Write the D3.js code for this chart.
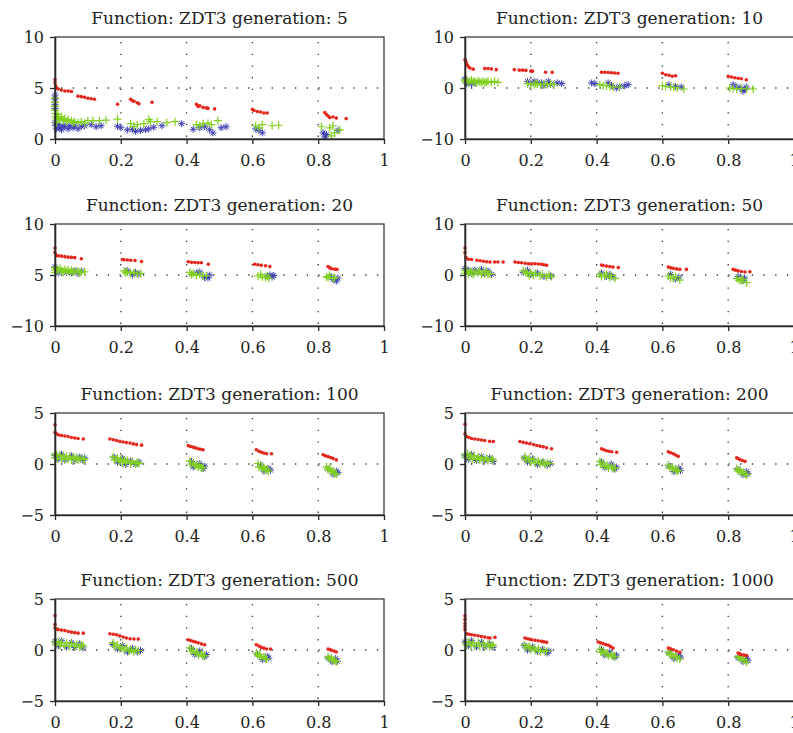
<html>
<head>
<meta charset="utf-8">
<title>ZDT3 generations</title>
<script src="https://cdn.jsdelivr.net/npm/d3@7"></script>
<style>
  body { margin: 0; background: #fff; }
  svg { display: block; }
</style>
</head>
<body>
<div id="chart"></div>
<script>
// ---- chart data ----
var generations = [5, 10, 20, 50, 100, 200, 500, 1000];
var yDomains = [[0, 10], [-10, 10], [-10, 10], [-10, 10], [-5, 5], [-5, 5], [-5, 5], [-5, 5]];
var yTickValues = [[0, 5, 10], [-10, 0, 10], [-10, 0, 10], [-10, 0, 10], [-5, 0, 5], [-5, 0, 5], [-5, 0, 5], [-5, 0, 5]];
var yTickLabels = [["0", "5", "10"], ["−10", "0", "10"], ["−10", "5", "10"], ["−10", "0", "10"],
                   ["−5", "0", "5"], ["−5", "0", "5"], ["−5", "0", "5"], ["−5", "0", "5"]];
var gridYValues = [5, 0, 0, 0, 0, 0, 0, 0];
var xTicks = [0, 0.2, 0.4, 0.6, 0.8, 1];
var xGrid = [0.2, 0.4, 0.6, 0.8];

// red dots
var red5 = [[0,5.8],[0,5.5],[0.002,5.2],[0.005,5.0],[0.01,4.9],[0.02,4.8],[0.03,4.7],[0.04,4.7],[0.05,4.65],[0.07,4.2],[0.08,4.15],[0.09,4.1],[0.1,4.0],[0.11,3.95],[0.12,3.9],[0.19,3.4],[0.23,3.9],[0.235,3.75],[0.24,3.7],[0.25,3.55],[0.255,3.45],[0.295,3.6],[0.43,3.4],[0.435,3.2],[0.44,3.25],[0.45,3.1],[0.46,3.05],[0.465,3.0],[0.485,2.95],[0.6,2.9],[0.605,2.8],[0.615,2.7],[0.625,2.65],[0.635,2.55],[0.645,2.55],[0.82,2.6],[0.825,2.4],[0.83,2.25],[0.835,2.1],[0.845,2.15],[0.855,2.05],[0.885,2.0]];
var red10 = [[0,5.6],[0.002,5.2],[0.004,4.9],[0.007,4.5],[0.01,4.2],[0.015,3.9],[0.025,3.7],[0.06,3.8],[0.07,3.8],[0.08,3.75],[0.095,3.6],[0.15,3.6],[0.165,3.5],[0.175,3.5],[0.185,3.45],[0.2,3.3],[0.205,3.3],[0.245,3.1],[0.265,3.1],[0.415,3.1],[0.425,3.1],[0.435,3.05],[0.445,3.0],[0.455,2.95],[0.465,2.9],[0.6,2.9],[0.61,2.6],[0.62,2.5],[0.63,2.3],[0.64,2.4],[0.8,2.3],[0.81,2.15],[0.82,2.0],[0.83,1.9],[0.84,1.8],[0.855,1.6]];
var red20 = [[0,5.3],[0,4.4],[0.005,3.85],[0.01,3.75],[0.02,3.7],[0.03,3.6],[0.04,3.5],[0.05,3.45],[0.06,3.4],[0.08,3.2],[0.205,3.05],[0.21,3.0],[0.22,2.95],[0.23,2.9],[0.243,2.85],[0.263,2.65],[0.405,2.6],[0.415,2.5],[0.425,2.45],[0.435,2.4],[0.445,2.4],[0.466,2.1],[0.607,2.1],[0.617,2.0],[0.627,1.9],[0.64,1.8],[0.653,1.65],[0.83,1.65],[0.835,1.4],[0.84,1.25],[0.85,1.15],[0.857,1.1]];
var red50 = [[0,5.3],[0,4.4],[0.003,3.4],[0.01,3.1],[0.02,3.05],[0.036,2.9],[0.046,2.8],[0.056,2.7],[0.066,2.6],[0.076,2.55],[0.09,2.55],[0.1,2.55],[0.116,2.55],[0.152,2.55],[0.162,2.45],[0.172,2.4],[0.183,2.3],[0.193,2.2],[0.203,2.2],[0.213,2.2],[0.223,2.15],[0.233,2.1],[0.24,2.0],[0.248,1.9],[0.415,1.95],[0.42,1.85],[0.43,1.75],[0.44,1.65],[0.45,1.55],[0.466,1.45],[0.618,1.55],[0.625,1.4],[0.633,1.3],[0.643,1.2],[0.653,1.1],[0.673,1.1],[0.815,1.1],[0.822,0.95],[0.83,0.8],[0.84,0.7],[0.851,0.6],[0.866,0.65]];
var red100 = [[0,3.85],[0,3.1],[0.005,2.95],[0.012,2.85],[0.02,2.8],[0.03,2.75],[0.04,2.7],[0.05,2.6],[0.06,2.55],[0.07,2.5],[0.086,2.45],[0.167,2.45],[0.177,2.38],[0.187,2.3],[0.197,2.22],[0.207,2.15],[0.217,2.1],[0.228,2.05],[0.238,1.97],[0.248,1.9],[0.263,1.85],[0.405,1.8],[0.412,1.72],[0.42,1.65],[0.427,1.58],[0.435,1.5],[0.442,1.45],[0.45,1.4],[0.612,1.4],[0.62,1.25],[0.627,1.15],[0.635,1.07],[0.643,1.0],[0.658,1.0],[0.815,0.9],[0.822,0.8],[0.83,0.72],[0.838,0.63],[0.845,0.55],[0.855,0.4]];
var red200 = [[0,3.9],[0,2.95],[0.005,2.7],[0.012,2.6],[0.02,2.5],[0.03,2.45],[0.04,2.4],[0.05,2.35],[0.06,2.3],[0.075,2.22],[0.086,2.2],[0.167,2.2],[0.177,2.12],[0.187,2.05],[0.197,1.98],[0.208,1.9],[0.218,1.82],[0.228,1.75],[0.238,1.68],[0.248,1.6],[0.263,1.5],[0.415,1.5],[0.422,1.4],[0.43,1.3],[0.438,1.25],[0.446,1.2],[0.461,1.15],[0.618,1.2],[0.625,1.1],[0.633,1.0],[0.64,0.88],[0.648,0.75],[0.826,0.6],[0.831,0.52],[0.836,0.43],[0.843,0.35],[0.851,0.26]];
var red500 = [[0,3.35],[0,2.5],[0,2.15],[0.005,2.05],[0.01,2.0],[0.02,1.95],[0.03,1.9],[0.04,1.82],[0.05,1.75],[0.06,1.7],[0.07,1.65],[0.086,1.65],[0.167,1.6],[0.177,1.55],[0.187,1.5],[0.197,1.38],[0.207,1.27],[0.217,1.18],[0.228,1.1],[0.24,1.08],[0.253,1.07],[0.405,1.0],[0.412,0.92],[0.42,0.85],[0.427,0.78],[0.435,0.7],[0.445,0.6],[0.455,0.52],[0.612,0.52],[0.62,0.38],[0.627,0.26],[0.635,0.18],[0.643,0.1],[0.655,0.1],[0.83,0.1],[0.835,0.05],[0.84,-0.03],[0.848,-0.1],[0.855,-0.2]];
var red1000 = [[0,3.35],[0,3.0],[0,2.6],[0,2.3],[0,2.0],[0.005,1.6],[0.012,1.55],[0.02,1.5],[0.03,1.45],[0.04,1.4],[0.05,1.33],[0.06,1.27],[0.07,1.2],[0.076,1.17],[0.091,1.24],[0.182,1.17],[0.19,1.1],[0.197,1.05],[0.203,1.0],[0.213,0.95],[0.223,0.9],[0.233,0.85],[0.24,0.8],[0.248,0.75],[0.405,0.78],[0.412,0.7],[0.42,0.62],[0.428,0.54],[0.436,0.46],[0.443,0.33],[0.45,0.2],[0.618,0.2],[0.625,0.12],[0.633,0.03],[0.643,-0.1],[0.653,-0.23],[0.83,-0.3],[0.835,-0.38],[0.84,-0.46],[0.848,-0.5],[0.856,-0.55]];

// green plus
var green5 = [[0,4.0],[0,3.6],[0,3.2],[0,2.8],[0.002,2.5],[0.003,2.2],[0.005,2.0],[0.005,1.6],[0.008,2.4],[0.01,2.1],[0.015,1.9],[0.02,2.2],[0.025,1.8],[0.03,2.0],[0.035,1.7],[0.04,1.9],[0.05,1.8],[0.055,1.6],[0.06,1.7],[0.07,1.6],[0.08,1.7],[0.09,1.55],[0.1,1.8],[0.115,1.8],[0.135,1.8],[0.155,1.85],[0.19,1.95],[0.23,1.5],[0.24,1.25],[0.25,1.4],[0.27,1.5],[0.285,1.9],[0.29,1.7],[0.31,1.7],[0.34,1.6],[0.365,1.7],[0.43,1.4],[0.44,1.3],[0.45,1.5],[0.465,1.55],[0.475,1.4],[0.495,1.8],[0.61,1.3],[0.62,1.1],[0.63,1.4],[0.66,1.3],[0.68,1.35],[0.81,1.2],[0.835,1.1],[0.845,1.3],[0.865,0.9],[0.84,0.3],[0.85,0.6]];
var green10 = [[0,1.6],[0,1.2],[0.005,1.5],[0.01,1.1],[0.015,1.4],[0.02,1.5],[0.025,1.2],[0.03,1.3],[0.035,1.0],[0.04,1.4],[0.045,1.2],[0.05,1.1],[0.055,1.3],[0.06,1.0],[0.065,1.2],[0.07,1.3],[0.08,1.1],[0.09,1.3],[0.1,1.1],[0.19,0.85],[0.2,0.7],[0.21,0.65],[0.215,0.9],[0.22,0.8],[0.23,0.6],[0.24,0.75],[0.25,0.65],[0.26,0.8],[0.27,0.65],[0.41,0.65],[0.42,0.5],[0.43,0.45],[0.44,0.3],[0.45,0.2],[0.47,0.2],[0.6,0.45],[0.61,0.3],[0.625,0.2],[0.635,0.1],[0.645,0],[0.665,-0.2],[0.805,0],[0.815,-0.1],[0.826,-0.2],[0.84,-0.1],[0.856,-0.2],[0.876,-0.2]];
var green20 = [[0,1.5],[0,1.0],[0,0.5],[0.005,1.2],[0.01,0.8],[0.015,1.3],[0.02,0.9],[0.025,0.5],[0.03,1.1],[0.035,0.7],[0.04,1.0],[0.045,0.5],[0.05,0.9],[0.055,0.6],[0.06,0.8],[0.07,0.8],[0.075,0.4],[0.08,0.6],[0.09,0.6],[0.21,0.8],[0.215,0.4],[0.22,0.6],[0.23,0.33],[0.24,0.5],[0.25,0.2],[0.26,0.3],[0.41,0.5],[0.415,0.1],[0.42,0.3],[0.43,-0.07],[0.44,0.2],[0.45,-0.2],[0.46,-0.1],[0.617,-0.2],[0.625,0.1],[0.63,-0.4],[0.64,-0.5],[0.645,-0.2],[0.65,-0.6],[0.825,-0.33],[0.83,-0.5],[0.835,-0.1],[0.845,-0.7],[0.85,-0.5]];
var green50 = [[0,1.0],[0,0.3],[0.005,0.8],[0.01,0.2],[0.015,0.7],[0.02,0.6],[0.025,0.1],[0.03,0.6],[0.04,0.45],[0.045,0.9],[0.05,0.2],[0.06,0.33],[0.065,0.7],[0.07,0.1],[0.076,0.26],[0.177,0.8],[0.185,0.5],[0.19,0.33],[0.195,-0.1],[0.2,0.5],[0.208,-0.07],[0.215,0.3],[0.228,-0.2],[0.235,0.1],[0.248,-0.33],[0.255,0],[0.263,-0.33],[0.41,0.13],[0.415,-0.3],[0.425,-0.2],[0.43,0.2],[0.44,-0.5],[0.445,-0.1],[0.456,-0.65],[0.618,-0.2],[0.625,-0.6],[0.633,-0.65],[0.64,-0.3],[0.653,-1.0],[0.826,-0.65],[0.833,-1.0],[0.84,-1.2],[0.845,-0.8],[0.856,-1.5]];
var green100 = [[0,0.95],[0,0.6],[0.005,0.9],[0.008,0.5],[0.015,0.85],[0.02,0.55],[0.025,0.8],[0.03,0.45],[0.035,0.75],[0.04,0.5],[0.045,0.75],[0.05,0.4],[0.055,0.7],[0.06,0.45],[0.065,0.65],[0.07,0.4],[0.076,0.6],[0.085,0.45],[0.09,0.5],[0.177,0.7],[0.18,0.4],[0.19,0.6],[0.195,0.25],[0.2,0.5],[0.205,0.15],[0.21,0.4],[0.215,0.1],[0.22,0.35],[0.23,0.05],[0.235,0.25],[0.245,0],[0.25,0.15],[0.255,0.05],[0.41,0.3],[0.412,0],[0.42,0.1],[0.425,-0.2],[0.43,-0.05],[0.435,-0.3],[0.44,-0.15],[0.445,-0.4],[0.45,-0.3],[0.617,0.05],[0.62,-0.3],[0.627,-0.2],[0.63,-0.5],[0.635,-0.35],[0.64,-0.6],[0.645,-0.5],[0.648,-0.7],[0.825,-0.3],[0.83,-0.55],[0.835,-0.45],[0.84,-0.75],[0.845,-0.65],[0.85,-0.9],[0.855,-1.0]];
var green200 = [[0,0.95],[0.002,0.6],[0.008,1.0],[0.012,0.6],[0.018,0.85],[0.022,0.5],[0.028,0.8],[0.035,0.5],[0.04,0.7],[0.045,0.4],[0.05,0.65],[0.058,0.4],[0.065,0.6],[0.07,0.35],[0.08,0.5],[0.085,0.4],[0.182,0.7],[0.185,0.4],[0.195,0.55],[0.2,0.2],[0.208,0.45],[0.213,0.1],[0.223,0.3],[0.228,0],[0.238,0.15],[0.243,-0.05],[0.25,0.1],[0.258,0.05],[0.41,0.25],[0.413,-0.05],[0.42,0.05],[0.425,-0.25],[0.432,-0.1],[0.436,-0.4],[0.445,-0.25],[0.45,-0.45],[0.456,-0.4],[0.618,-0.1],[0.622,-0.4],[0.63,-0.3],[0.633,-0.55],[0.64,-0.5],[0.645,-0.7],[0.648,-0.6],[0.826,-0.45],[0.83,-0.7],[0.836,-0.6],[0.84,-0.85],[0.846,-0.8],[0.852,-1.0],[0.856,-1.05]];
var green500 = [[0,0.8],[0.003,0.5],[0.01,0.85],[0.015,0.45],[0.02,0.7],[0.03,0.4],[0.035,0.7],[0.045,0.35],[0.05,0.65],[0.06,0.35],[0.065,0.55],[0.075,0.3],[0.08,0.5],[0.086,0.4],[0.177,0.68],[0.18,0.35],[0.19,0.5],[0.197,0.15],[0.205,0.3],[0.21,0],[0.218,0.2],[0.225,-0.1],[0.232,0.05],[0.238,-0.15],[0.245,0],[0.253,-0.05],[0.41,0.2],[0.413,-0.1],[0.42,0],[0.425,-0.3],[0.432,-0.2],[0.436,-0.5],[0.445,-0.4],[0.45,-0.6],[0.455,-0.55],[0.612,-0.3],[0.617,-0.55],[0.622,-0.45],[0.627,-0.7],[0.635,-0.65],[0.64,-0.85],[0.643,-0.88],[0.83,-0.68],[0.835,-0.9],[0.84,-0.8],[0.845,-1.0],[0.85,-1.05],[0.855,-1.17]];
var green1000 = [[0.003,0.75],[0.005,0.45],[0.012,0.8],[0.018,0.45],[0.025,0.7],[0.03,0.4],[0.04,0.7],[0.045,0.35],[0.055,0.65],[0.06,0.35],[0.07,0.6],[0.075,0.35],[0.082,0.5],[0.086,0.42],[0.182,0.5],[0.185,0.2],[0.195,0.35],[0.2,0.05],[0.21,0.2],[0.215,-0.05],[0.223,0.1],[0.23,-0.15],[0.24,-0.05],[0.248,-0.13],[0.41,0.1],[0.413,-0.2],[0.42,-0.1],[0.425,-0.35],[0.432,-0.3],[0.436,-0.55],[0.445,-0.5],[0.45,-0.62],[0.456,-0.62],[0.618,-0.2],[0.622,-0.45],[0.628,-0.4],[0.633,-0.65],[0.64,-0.6],[0.645,-0.8],[0.653,-0.88],[0.83,-0.62],[0.835,-0.8],[0.84,-0.75],[0.845,-0.95],[0.85,-1.0],[0.856,-1.2]];

// blue asterisks
var blue5 = [[0,4.3],[0,3.9],[0,3.4],[0,3.0],[0,1.6],[0.003,1.3],[0.005,1.0],[0.01,1.4],[0.015,1.1],[0.02,0.9],[0.025,1.3],[0.03,1.2],[0.04,1.0],[0.045,1.3],[0.055,1.1],[0.06,1.35],[0.07,1.0],[0.08,1.25],[0.09,1.3],[0.11,1.4],[0.125,1.2],[0.14,1.3],[0.19,1.25],[0.2,1.1],[0.22,0.9],[0.235,0.95],[0.245,0.75],[0.26,0.85],[0.275,0.9],[0.285,1.0],[0.3,1.15],[0.325,1.3],[0.385,1.5],[0.42,0.95],[0.44,1.1],[0.455,1.2],[0.47,0.9],[0.48,0.6],[0.505,1.1],[0.52,1.2],[0.61,1.0],[0.62,0.85],[0.63,0.6],[0.815,0.6],[0.82,0.2],[0.825,0.45],[0.86,0.85]];
var blue10 = [[0,1.8],[0.005,0.9],[0.01,1.0],[0.02,0.8],[0.03,1.0],[0.19,1.3],[0.2,0.9],[0.21,1.3],[0.22,1.1],[0.233,1.0],[0.24,0.5],[0.253,1.3],[0.26,0.7],[0.28,1.0],[0.294,0.85],[0.385,1.0],[0.395,0.85],[0.435,1.0],[0.445,0.5],[0.46,0],[0.47,0.3],[0.486,0.45],[0.496,0.65],[0.62,0.65],[0.64,0.3],[0.657,0.2],[0.815,0.65],[0.825,0.2],[0.836,0],[0.845,-0.65],[0.855,0.2],[0.85,-0.3]];
var blue20 = [[0,1.6],[0.01,0.4],[0.02,0.9],[0.035,0.5],[0.05,0.45],[0.06,0.9],[0.07,0.3],[0.08,0.8],[0.22,0.9],[0.235,0],[0.245,0.5],[0.255,0.2],[0.43,0.4],[0.44,0.6],[0.455,-0.5],[0.465,-0.6],[0.47,0],[0.645,-0.2],[0.653,0],[0.66,-0.4],[0.665,-0.1],[0.84,-0.4],[0.845,-0.85],[0.855,-1.2],[0.86,-0.6]];
var blue50 = [[0,1.25],[0.01,0.9],[0.02,0.3],[0.03,1.0],[0.04,0.5],[0.05,1.1],[0.06,0.2],[0.07,0.8],[0.08,0.1],[0.177,0.5],[0.19,0.9],[0.2,0.1],[0.22,0.4],[0.24,-0.3],[0.26,-0.2],[0.415,0.4],[0.43,-0.3],[0.44,0.1],[0.45,-0.4],[0.625,0.1],[0.64,-0.8],[0.65,-0.4],[0.83,-0.3],[0.845,-1.1],[0.85,-0.6]];
var blue100 = [[0,0.85],[0.01,0.5],[0.02,0.95],[0.03,0.4],[0.05,0.8],[0.06,0.35],[0.075,0.7],[0.085,0.35],[0.09,0.6],[0.18,0.65],[0.19,0.2],[0.205,0.55],[0.215,-0.05],[0.23,0.3],[0.245,-0.05],[0.255,0.2],[0.415,0.25],[0.42,-0.3],[0.44,0.05],[0.45,-0.45],[0.455,-0.2],[0.625,-0.1],[0.635,-0.7],[0.65,-0.45],[0.655,-0.6],[0.83,-0.5],[0.845,-1.0],[0.855,-0.7],[0.86,-0.85]];
var blue200 = [[0,0.8],[0.01,0.45],[0.02,0.95],[0.035,0.35],[0.05,0.75],[0.06,0.3],[0.075,0.6],[0.085,0.25],[0.18,0.6],[0.19,0.2],[0.205,0.5],[0.22,-0.05],[0.235,0.2],[0.25,-0.1],[0.26,0.05],[0.415,0.2],[0.425,-0.35],[0.445,0],[0.455,-0.5],[0.46,-0.3],[0.62,-0.2],[0.635,-0.75],[0.65,-0.4],[0.655,-0.65],[0.83,-0.55],[0.845,-1.05],[0.855,-0.75],[0.86,-0.95]];
var blue500 = [[0,0.85],[0.01,0.4],[0.02,0.9],[0.035,0.3],[0.05,0.75],[0.06,0.25],[0.075,0.6],[0.085,0.2],[0.175,0.55],[0.19,0.1],[0.205,0.45],[0.22,-0.2],[0.235,0.15],[0.25,-0.2],[0.26,-0.05],[0.415,0.15],[0.425,-0.45],[0.44,-0.1],[0.455,-0.65],[0.46,-0.45],[0.615,-0.4],[0.63,-0.95],[0.645,-0.6],[0.65,-0.8],[0.83,-0.8],[0.842,-1.15],[0.853,-0.85],[0.858,-1.1]];
var blue1000 = [[0,0.8],[0.01,0.4],[0.02,0.9],[0.035,0.3],[0.05,0.75],[0.06,0.3],[0.075,0.6],[0.085,0.25],[0.18,0.45],[0.19,0],[0.205,0.3],[0.22,-0.15],[0.235,0.05],[0.25,-0.3],[0.255,-0.1],[0.415,0.05],[0.425,-0.5],[0.44,-0.2],[0.455,-0.7],[0.46,-0.5],[0.62,-0.3],[0.635,-0.85],[0.65,-0.5],[0.655,-0.7],[0.83,-0.75],[0.845,-1.15],[0.855,-0.85],[0.86,-1.0]];

var redSets = [red5, red10, red20, red50, red100, red200, red500, red1000];
var greenSets = [green5, green10, green20, green50, green100, green200, green500, green1000];
var blueSets = [blue5, blue10, blue20, blue50, blue100, blue200, blue500, blue1000];

// ---- layout ----
var width = 793, height = 733;
var colLeft = [55, 465];
var rowTop = [37, 224, 413, 599];
var plotW = 329, plotH = 102;

var serif = "DejaVu Serif";   // only serif face available here
var axisColor = "#2a2a2a";

var svg = d3.select("#chart").append("svg")
    .attr("width", width)
    .attr("height", height);

var plusPath = "M-4,0H4M0,-4V4";
var starPath = "M-3.5,0H3.5M0,-3.5V3.5M-2.5,-2.5L2.5,2.5M-2.5,2.5L2.5,-2.5";

generations.forEach(function(gen, i) {
  var left = colLeft[i % 2];
  var top = rowTop[Math.floor(i / 2)];

  var x = d3.scaleLinear().domain([0, 1]).range([0, plotW]);
  var y = d3.scaleLinear().domain(yDomains[i]).range([plotH, 0]);

  var g = svg.append("g").attr("transform", "translate(" + left + "," + top + ")");

  // dotted grid
  g.selectAll(".vgrid").data(xGrid).enter().append("line")
      .attr("x1", function(d) { return x(d); })
      .attr("x2", function(d) { return x(d); })
      .attr("y1", 0).attr("y2", plotH)
      .attr("stroke", "#333").attr("stroke-width", 1.3)
      .attr("stroke-dasharray", "1.3,10.4")
      .attr("stroke-dashoffset", -5);
  g.append("line")
      .attr("x1", 0).attr("x2", plotW)
      .attr("y1", y(gridYValues[i])).attr("y2", y(gridYValues[i]))
      .attr("stroke", "#333").attr("stroke-width", 1.3)
      .attr("stroke-dasharray", "1.3,10.4")
      .attr("stroke-dashoffset", -6);

  // blue asterisks
  g.selectAll(".blue").data(blueSets[i]).enter().append("path")
      .attr("d", starPath)
      .attr("transform", function(d) { return "translate(" + x(d[0]) + "," + y(d[1]) + ")"; })
      .attr("stroke", "#3d3db4").attr("stroke-width", 1).attr("fill", "none");

  // green plus
  g.selectAll(".green").data(greenSets[i]).enter().append("path")
      .attr("d", plusPath)
      .attr("transform", function(d) { return "translate(" + x(d[0]) + "," + y(d[1]) + ")"; })
      .attr("stroke", "#80d01e").attr("stroke-width", 1.2).attr("fill", "none");

  // red dots
  g.selectAll(".red").data(redSets[i]).enter().append("circle")
      .attr("cx", function(d) { return x(d[0]); })
      .attr("cy", function(d) { return y(d[1]); })
      .attr("r", 1.8)
      .attr("fill", "#e4261c");

  // box
  g.append("rect")
      .attr("x", 0).attr("y", 0)
      .attr("width", plotW).attr("height", plotH)
      .attr("fill", "none").attr("stroke", axisColor).attr("stroke-width", 1.2);

  // axes
  var xAxis = d3.axisBottom(x)
      .tickValues(xTicks)
      .tickFormat(d3.format(""))
      .tickSize(5).tickSizeOuter(0).tickPadding(11);
  var yLabels = yTickLabels[i];
  var yAxis = d3.axisLeft(y)
      .tickValues(yTickValues[i])
      .tickFormat(function(d, k) { return yLabels[k]; })
      .tickSize(5).tickSizeOuter(0).tickPadding(6);

  var gx = g.append("g").attr("transform", "translate(0," + plotH + ")").call(xAxis);
  var gy = g.append("g").call(yAxis);
  [gx, gy].forEach(function(a) {
    a.attr("font-family", serif).attr("font-size", 16);
    a.select(".domain").attr("stroke", axisColor).attr("stroke-width", 1.6);
    a.selectAll(".tick line").attr("stroke", axisColor).attr("stroke-width", 1.3);
    a.selectAll("text").attr("fill", "#222");
  });

  // title
  g.append("text")
      .attr("x", plotW / 2)
      .attr("y", -13)
      .attr("text-anchor", "middle")
      .attr("font-family", serif)
      .attr("font-size", 17)
      .attr("fill", "#222")
      .text("Function: ZDT3 generation: " + gen);
});
</script>
</body>
</html>
